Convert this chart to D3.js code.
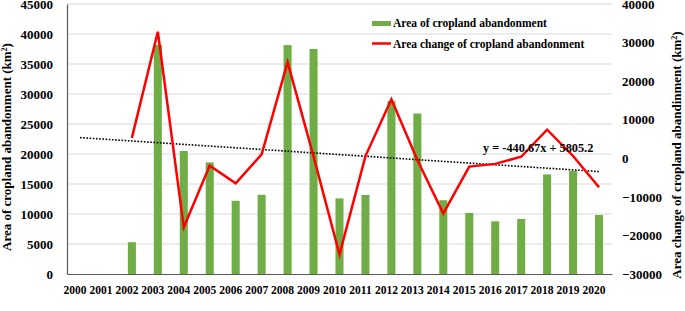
<!DOCTYPE html>
<html>
<head>
<meta charset="utf-8">
<script src="https://cdn.jsdelivr.net/npm/d3@7"></script>
<style>
  body { margin: 0; background: #fff; }
  text { font-family: "Liberation Serif", "Times New Roman", serif; font-weight: bold; fill: #000; }
</style>
</head>
<body>
<div id="container"></div>
<script>
/* DATA */
const years = ["2000","2001","2002","2003","2004","2005","2006","2007","2008","2009","2010",
  "2011","2012","2013","2014","2015","2016","2017","2018","2019","2020"];
const area = [null, null, 5300, 38200, 20500, 18600, 12200, 13200, 38150, 37500, 12600,
  13170, 28800, 26750, 12300, 10170, 8780, 9170, 16600, 17200, 9830];
const change = [null, null, 5300, 32800, -17900, -1900, -6500, 1000, 24900, 500, -24950,
  570, 15300, -450, -14300, -2150, -1450, 400, 7400, 600, -7500];
const leftTicks = [0, 5000, 10000, 15000, 20000, 25000, 30000, 35000, 40000, 45000];
const rightTicks = [-30000, -20000, -10000, 0, 10000, 20000, 30000, 40000];
const trend = { slope: -440.67, intercept: 5805.2, label: "y = -440.67x + 5805.2" };

/* CONSTANTS */
const width = 685, height = 311,
  margin = { top: 4, bottom: 37, left: 67, right: 73 };

const svg = d3.select("#container")
  .append("svg")
  .attr("width", width)
  .attr("height", height);

// SCALES
const x = d3.scaleBand()
  .domain(years)
  .range([margin.left, width - margin.right])
  .paddingInner(0.69)
  .paddingOuter(0.345);

const yLeft = d3.scaleLinear()
  .domain([0, 45000])
  .range([height - margin.bottom, margin.top]);

const yRight = d3.scaleLinear()
  .domain([-30000, 40000])
  .range([height - margin.bottom, margin.top]);

const cx = d => x(d) + x.bandwidth() / 2;

// GRIDLINES
svg.append("g")
  .selectAll("line")
  .data(leftTicks.filter(d => d > 0))
  .join("line")
  .attr("x1", margin.left)
  .attr("x2", width - margin.right)
  .attr("y1", d => yLeft(d))
  .attr("y2", d => yLeft(d))
  .attr("stroke", "#d9d9d9")
  .attr("stroke-width", 1);

// LEFT AXIS
const leftAxis = svg.append("g")
  .attr("transform", `translate(${margin.left},0)`)
  .call(d3.axisLeft(yLeft).tickValues(leftTicks).tickSize(0).tickPadding(14).tickFormat(d3.format("d")));
leftAxis.select(".domain").attr("stroke", "#595959").attr("stroke-width", 1.2);
leftAxis.selectAll("text").style("font-size", "13px").attr("fill", "#000");

// RIGHT AXIS
const rightAxis = svg.append("g")
  .attr("transform", `translate(${width - margin.right},0)`)
  .call(d3.axisRight(yRight).tickValues(rightTicks).tickSize(0).tickPadding(10).tickFormat(d3.format("d")));
rightAxis.select(".domain").remove();
rightAxis.selectAll("text").style("font-size", "13px").attr("fill", "#000");

// BARS
svg.selectAll("rect.bar")
  .data(years.map((y, i) => ({ year: y, value: area[i] })).filter(d => d.value != null))
  .join("rect")
  .attr("class", "bar")
  .attr("x", d => x(d.year))
  .attr("width", x.bandwidth())
  .attr("y", d => yLeft(d.value))
  .attr("height", d => yLeft(0) - yLeft(d.value))
  .attr("fill", "#70ad47");

// BOTTOM AXIS
const bottomAxis = svg.append("g")
  .attr("transform", `translate(0,${height - margin.bottom})`)
  .call(d3.axisBottom(x).tickSize(0).tickPadding(0));
bottomAxis.select(".domain").attr("stroke", "#595959").attr("stroke-width", 1.2);
// labels sit where the slanted ones are centred in the original
bottomAxis.selectAll("text")
  .style("font-size", "11.5px")
  .attr("fill", "#000")
  .attr("text-anchor", "middle")
  .attr("x", -5)
  .attr("y", 20)
  .attr("dy", null);

// TRENDLINE
const trendData = years.map((y, i) => ({ year: y, value: trend.slope * (i + 1) + trend.intercept }));
svg.append("path")
  .datum(trendData)
  .attr("fill", "none")
  .attr("stroke", "#000")
  .attr("stroke-width", 1.6)
  .attr("stroke-dasharray", "1.6,1.6")
  .attr("d", d3.line().x(d => cx(d.year)).y(d => yRight(d.value)));

// LINE
const lineData = years.map((y, i) => ({ year: y, value: change[i] })).filter(d => d.value != null);
svg.append("path")
  .datum(lineData)
  .attr("fill", "none")
  .attr("stroke", "#ff0000")
  .attr("stroke-width", 2.5)
  .attr("stroke-linejoin", "miter")
  .attr("d", d3.line().x(d => cx(d.year)).y(d => yRight(d.value)));

// TREND LABEL
svg.append("text")
  .attr("x", 483)
  .attr("y", 152)
  .style("font-size", "12.3px")
  .text(trend.label);

// LEGEND
const legend = svg.append("g").attr("transform", "translate(372,0)");
legend.append("rect")
  .attr("x", 0).attr("y", 21)
  .attr("width", 19).attr("height", 5)
  .attr("fill", "#70ad47");
legend.append("text")
  .attr("x", 21).attr("y", 27)
  .style("font-size", "11.5px")
  .text("Area of cropland abandonment");
legend.append("line")
  .attr("x1", 0).attr("x2", 19)
  .attr("y1", 43.5).attr("y2", 43.5)
  .attr("stroke", "#ff0000")
  .attr("stroke-width", 2.5);
legend.append("text")
  .attr("x", 21).attr("y", 48)
  .style("font-size", "11.5px")
  .text("Area change of cropland abandonment");

// AXIS TITLES
const leftTitle = svg.append("text")
  .attr("transform", `translate(11,${(yLeft(0) + yLeft(45000)) / 2 + 8}) rotate(-90)`)
  .attr("text-anchor", "middle")
  .style("font-size", "13px");
leftTitle.append("tspan").text("Area of cropland abandonment (km");
leftTitle.append("tspan").attr("baseline-shift", "super").style("font-size", "8px").text("2");
leftTitle.append("tspan").text(")");

const rightTitle = svg.append("text")
  .attr("transform", `translate(681,${(yRight(-30000) + yRight(40000)) / 2 + 16}) rotate(-90)`)
  .attr("text-anchor", "middle")
  .style("font-size", "13px");
rightTitle.append("tspan").text("Area change of cropland abandinment (km");
rightTitle.append("tspan").attr("baseline-shift", "super").style("font-size", "8px").text("2");
rightTitle.append("tspan").text(")");
</script>
</body>
</html>
